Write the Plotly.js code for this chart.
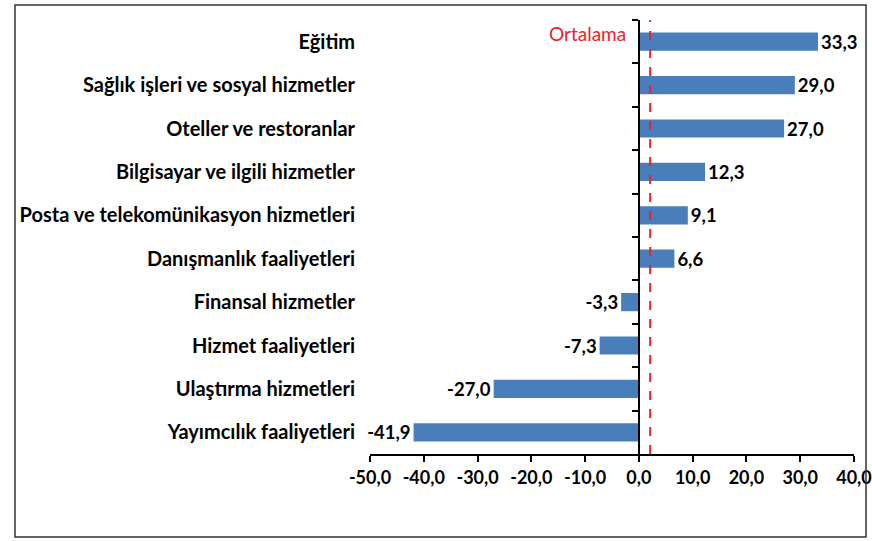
<!DOCTYPE html>
<html><head><meta charset="utf-8">
<script src="https://cdn.plot.ly/plotly-3.0.1.min.js"></script>
<style>html,body{margin:0;padding:0;background:#fff;}#chart{width:872px;height:541px;}</style>
</head><body><div id="chart"></div>
<script>
const categories = ["Eğitim","Sağlık işleri ve sosyal hizmetler","Oteller ve restoranlar","Bilgisayar ve ilgili hizmetler","Posta ve telekomünikasyon hizmetleri","Danışmanlık faaliyetleri","Finansal hizmetler","Hizmet faaliyetleri","Ulaştırma hizmetleri","Yayımcılık faaliyetleri"];
const values = [33.3, 29.0, 27.0, 12.3, 9.1, 6.6, -3.3, -7.3, -27.0, -41.9];
const averageValue = 2.1;
const averageLabel = "Ortalama";
const xTicks = [-50,-40,-30,-20,-10,0,10,20,30,40];

const FONT = "Lato, 'Open Sans', sans-serif";
const xMin = -50, xMax = 40;
const zeroPos = (0 - xMin) / (xMax - xMin);
const fmt = v => v.toFixed(1).replace('.', ',');

const traces = [
  {
    type: 'bar', orientation: 'h', x: values, y: categories,
    marker: {color: '#4A7EBB'}, width: 0.42,
    text: values.map(fmt), texttemplate: '%{text}', textposition: 'outside', cliponaxis: false,
    constraintext: 'none',
    textfont: {family: FONT, size: 18.5, color: '#000', weight: 'bold'},
    hoverinfo: 'skip'
  },
  {
    type: 'bar', orientation: 'h', x: values.map(() => 0), y: categories, yaxis: 'y2',
    marker: {color: 'rgba(0,0,0,0)'}, hoverinfo: 'skip', showlegend: false
  }
];

const layout = {
  width: 872, height: 541,
  margin: {l: 370, r: 18, t: 20, b: 87},
  paper_bgcolor: '#fff', plot_bgcolor: '#fff',
  showlegend: false,
  separators: ',.',
  font: {family: FONT, color: '#000'},
  xaxis: {
    range: [xMin, xMax], tickvals: xTicks, ticktext: xTicks.map(fmt),
    showgrid: false, zeroline: false, showline: true, linecolor: '#000', linewidth: 2,
    ticks: 'outside', ticklen: 6, tickwidth: 2, tickcolor: '#000',
    tickfont: {family: FONT, size: 18, color: '#000', weight: 'bold'}
  },
  yaxis: {
    type: 'category', categoryorder: 'array', categoryarray: categories,
    range: [9.5, -0.5], showgrid: false, zeroline: false, showline: false,
    ticks: '', ticklabelstandoff: 14,
    tickfont: {family: FONT, size: 20, color: '#000', weight: 'bold'}
  },
  yaxis2: {
    type: 'category', categoryorder: 'array', categoryarray: categories,
    range: [9.5, -0.5], overlaying: 'y', anchor: 'free', position: zeroPos, side: 'left',
    showgrid: false, zeroline: false, showline: true, linecolor: '#000', linewidth: 2,
    ticks: 'outside', tickson: 'boundaries', ticklen: 6, tickwidth: 2, tickcolor: '#000',
    showticklabels: false
  },
  shapes: [
    {type: 'line', xref: 'x', yref: 'paper', x0: averageValue, x1: averageValue, y0: 0, y1: 1,
     line: {color: '#E8232A', width: 2, dash: 'dash'}},
    {type: 'rect', xref: 'paper', yref: 'paper', x0: -0.7335, x1: 1.0248, y0: -0.191, y1: 1.0346,
     line: {color: '#333', width: 1.5}}
  ],
  annotations: [
    {xref: 'x', yref: 'paper', x: averageValue, y: 1, xanchor: 'right', yanchor: 'middle',
     xshift: -22, yshift: -13, showarrow: false, text: averageLabel,
     font: {family: FONT, size: 19, color: '#E8232A'}}
  ]
};

Plotly.newPlot('chart', traces, layout, {displayModeBar: false, staticPlot: true});
</script></body></html>
